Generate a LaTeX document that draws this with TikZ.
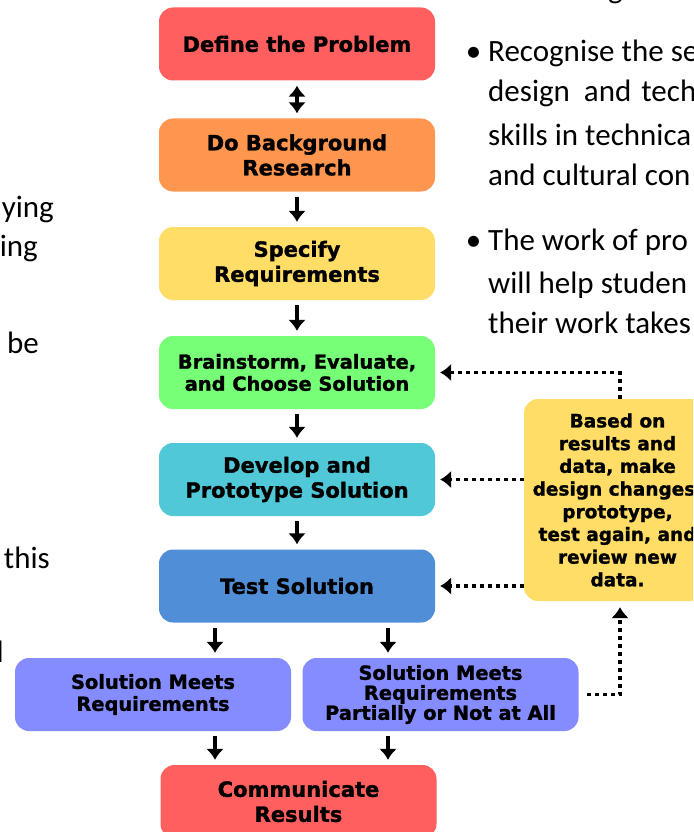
\documentclass[tikz,border=0pt]{standalone}
\usepackage{fontspec}
\setmainfont{Carlito}
\newfontfamily\chartfont{DejaVu Sans}[BoldFeatures={FakeBold=1.3}]
\usetikzlibrary{positioning,arrows.meta}
\tikzset{>={Latex[length=11pt,width=18pt]}}

\definecolor{problemred}{HTML}{FF5F5F}
\definecolor{researchorange}{HTML}{FF9650}
\definecolor{specyellow}{HTML}{FFDD66}
\definecolor{ideagreen}{HTML}{77FF77}
\definecolor{protocyan}{HTML}{50C8D7}
\definecolor{testblue}{HTML}{508FD7}
\definecolor{resultviolet}{HTML}{858CFF}

\tikzset{
  stage/.style={rectangle, rounded corners=14pt, minimum width=276pt, minimum height=73pt, inner sep=2pt, align=center, text=black, font=\chartfont\bfseries\fontsize{21}{25}\selectfont},
  flow/.style={->, line width=3.5pt, shorten >=5pt, shorten <=5pt},
  feedback/.style={->, line width=3.5pt, dash pattern=on 4pt off 4pt},
  aside/.style={inner sep=0pt, text=black, font=\fontsize{31}{41}\selectfont}
}

\begin{document}
\begin{tikzpicture}[x=1pt, y=-1pt]
      \useasboundingbox (0,0) rectangle (693,832);
      \clip (0,0) rectangle (693,832);
      % process steps
      \node[stage, fill=problemred] (n0) at (297,44) {Define the Problem};
      \node[stage, fill=researchorange, below of=n0, node distance=111pt] (n1) {Do Background\\Research};
      \node[stage, fill=specyellow, below of=n1, node distance=108.5pt] (n2) {Specify\\Requirements};
      \node[stage, fill=ideagreen, below of=n2, node distance=109pt, font=\chartfont\bfseries\fontsize{19.4}{22}\selectfont] (n3) {Brainstorm, Evaluate,\\and Choose Solution};
      \node[stage, fill=protocyan, below of=n3, node distance=107pt] (n4) {Develop and\\Prototype Solution};
      \node[stage, fill=testblue, below of=n4, node distance=106.5pt] (n5) {Test Solution};
      \node[stage, fill=resultviolet, below of=n5, node distance=108.5pt, xshift=-144pt, font=\chartfont\bfseries\fontsize{19.4}{22}\selectfont] (n6) {Solution Meets\\Requirements};
      \node[stage, fill=resultviolet, below of=n5, node distance=108.5pt, xshift=143.5pt, font=\chartfont\bfseries\fontsize{19.4}{20}\selectfont] (n7) {Solution Meets\\Requirements\\Partially or Not at All};
      \node[stage, fill=problemred, below of=n5, node distance=215.5pt, xshift=1.5pt] (n8) {Communicate\\Results};
      \node[stage, fill=specyellow, minimum width=187pt, minimum height=202pt, font=\chartfont\bfseries\fontsize{18.5}{22.7}\selectfont] (n9) at (617.5,500) {Based on\\results and\\data, make\\design changes,\\prototype,\\test again, and\\review new\\data.};
      % arrows
      \coordinate[left of=n5, node distance=82pt] (aux1);
      \coordinate[right of=n5, node distance=91pt] (aux2);
      \draw[flow, <->] (n0) -- (n1);
      \draw[flow] (n1) -- (n2);
      \draw[flow] (n2) -- (n3);
      \draw[flow] (n3) -- (n4);
      \draw[flow] (n4) -- (n5);
      \draw[flow] (aux1 |- n5.south) -- (aux1 |- n6.north);
      \draw[flow] (aux2 |- n5.south) -- (aux2 |- n7.north);
      \draw[flow] (aux1 |- n6.south) -- (aux1 |- n8.north);
      \draw[flow] (aux2 |- n7.south) -- (aux2 |- n8.north);
      % feedback loop
      \draw[feedback, shorten >=5pt] ([xshift=2.5pt]n9.north) |- (n3.east);
      \draw[feedback, shorten >=5pt] (n9.west |- n4.east) -- (n4.east);
      \draw[feedback, shorten >=5pt] (n9.west |- n5.east) -- (n5.east);
      \draw[feedback, shorten <=8pt, shorten >=6pt] (n7.east) -| ([xshift=2.5pt]n9.south);
      % surrounding page text
      \node[aside, anchor=base west] (g0) at (608,-1) {g};
      \node[aside, anchor=base west] (r1) at (488,62) {\llap{\textbullet\hspace{7pt}}Recognise the se};
      \node[aside, anchor=base west] (r2) at (488,102) {design\hspace{14pt}and\hspace{10pt}tech};
      \node[aside, anchor=base west] (r3) at (488,145) {skills in technica};
      \node[aside, anchor=base west] (r4) at (488,185) {and cultural con};
      \node[aside, anchor=base west] (r5) at (488,250) {\llap{\textbullet\hspace{7pt}}The work of pro};
      \node[aside, anchor=base west] (r6) at (488,293) {will help studen};
      \node[aside, anchor=base west] (r7) at (488,333) {their work takes};
      \node[aside, anchor=base east] (l1) at (54,217) {ying};
      \node[aside, anchor=base east] (l2) at (38,256) {ing};
      \node[aside, anchor=base east] (l3) at (39,353) {be};
      \node[aside, anchor=base east] (l4) at (50,568) {this};
      \node[aside, anchor=base east] (l5) at (4,662) {l};
    \end{tikzpicture}
\end{document}
